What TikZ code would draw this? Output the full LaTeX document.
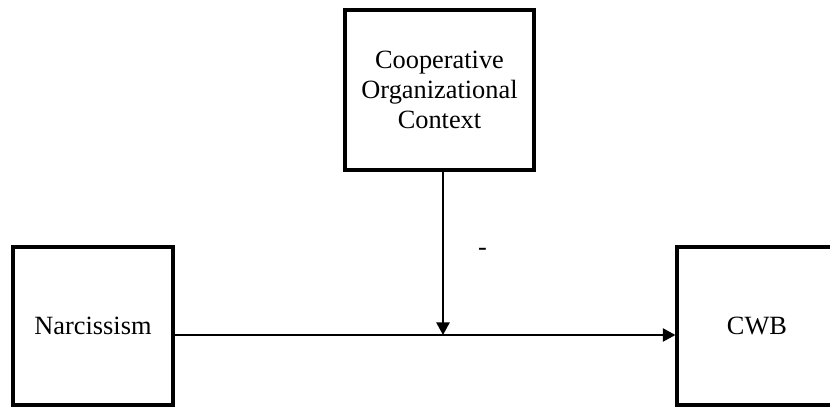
\documentclass[tikz,border=0pt]{standalone}
\usepackage{fontspec}
\setmainfont{Liberation Serif}
\usepackage{tikz}
\usetikzlibrary{arrows.meta,positioning,calc}

\tikzset{
    varbox/.style={draw, line width=1.8pt, align=center, inner sep=0pt,
        font=\fontsize{15}{17.2}\selectfont},
    path/.style={line width=1.2pt, -{Triangle[length=0.25cm,width=0.26cm]}}
}

\begin{document}
\begin{tikzpicture}
    % Frame
    \useasboundingbox (0,0) rectangle (16.6,8.14);
    \clip (0,0) rectangle (16.6,8.14);

    % Variables
    \node[varbox, minimum width=3.78cm, minimum height=3.2cm] (coop) at (8.79,6.34)
        {Cooperative\\Organizational\\Context};
    \node[varbox, minimum width=3.2cm, minimum height=3.16cm] (narc) at (1.86,1.62) {Narcissism};
    \node[varbox, minimum width=3.2cm, minimum height=3.16cm] (cwb) at (15.14,1.62) {CWB};

    % Main effect
    \coordinate (meet) at (8.86,1.44);
    \draw[path] (meet -| narc.east) -- (meet -| cwb.west);

    % Moderation
    \draw[path] (coop.south -| meet) -- (meet);
    \node[font=\fontsize{15}{17.2}\selectfont, inner sep=0pt] (sign) at (9.65,3.1) {-};

\end{tikzpicture}
\end{document}
